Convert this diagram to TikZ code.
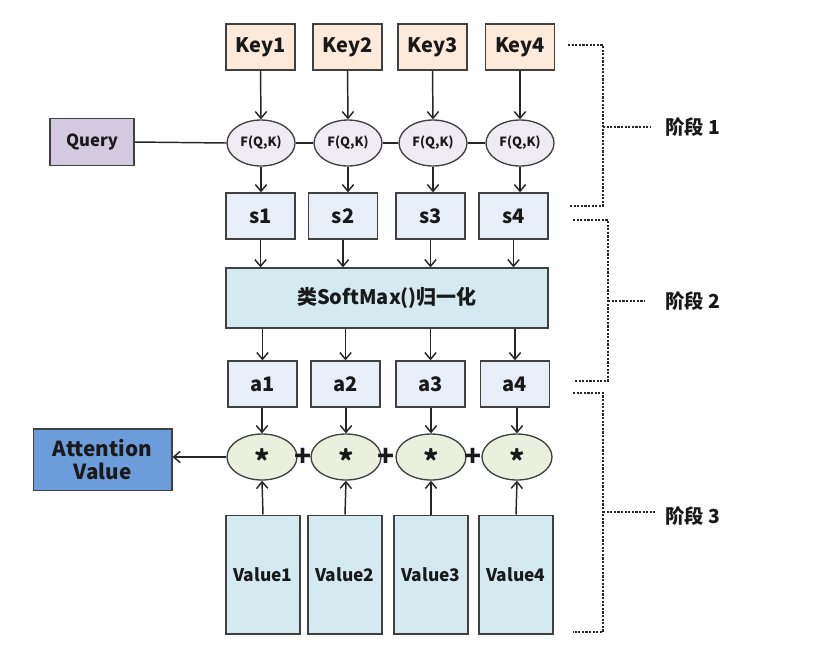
\documentclass[tikz,border=0pt]{standalone}
\usepackage{fontspec}
\setmainfont{Noto Sans CJK SC}
\usetikzlibrary{arrows.meta,shapes.geometric}

\definecolor{edgegray}{HTML}{404040}
\definecolor{keyfill}{HTML}{FDEADA}
\definecolor{queryfill}{HTML}{D3CAE0}
\definecolor{fqkfill}{HTML}{EEECF2}
\definecolor{scorefill}{HTML}{E8EEF7}
\definecolor{normfill}{HTML}{D4EAF0}
\definecolor{mulfill}{HTML}{EBF0DE}
\definecolor{attfill}{HTML}{6C9DDA}

\begin{document}
\begin{tikzpicture}[x=0.75pt, y=-0.75pt, >={Straight Barb[length=5pt,width=8.5pt]},
    every node/.style={text=black!90},
    box/.style={draw=edgegray, line width=1pt, inner sep=0pt, align=center},
    keybox/.style={box, fill=keyfill, minimum width=51.75pt, minimum height=34.5pt,
      font=\bfseries\fontsize{15}{18}\selectfont},
    querybox/.style={box, fill=queryfill, minimum width=63pt, minimum height=35pt,
      font=\bfseries\fontsize{12.5}{15}\selectfont},
    fqk/.style={box, ellipse, fill=fqkfill, minimum width=51pt, minimum height=34.5pt,
      font=\bfseries\fontsize{9.5}{11}\selectfont},
    scorebox/.style={box, fill=scorefill, minimum width=51.75pt, minimum height=34.5pt,
      font=\bfseries\fontsize{15}{18}\selectfont},
    normbox/.style={box, fill=normfill, minimum width=241.5pt, minimum height=45pt,
      font=\bfseries\fontsize{15}{18}\selectfont},
    mul/.style={box, ellipse, fill=mulfill, minimum width=52.5pt, minimum height=34.5pt},
    mulsign/.style={inner sep=0pt, yshift=-2.5pt, font=\bfseries\fontsize{22}{22}\selectfont},
    valuebox/.style={box, fill=normfill, minimum width=55.5pt, minimum height=89pt,
      font=\bfseries\fontsize{13}{15}\selectfont},
    attbox/.style={box, fill=attfill, minimum width=104pt, minimum height=46pt,
      font=\bfseries\fontsize{15.5}{17}\selectfont},
    plus/.style={inner sep=0pt, font=\bfseries\fontsize{21}{21}\selectfont},
    stage/.style={anchor=west, inner sep=0pt, font=\bfseries\fontsize{14.5}{17}\selectfont},
    link/.style={draw=black!85, line width=1.1pt},
    brk/.style={draw=black!85, line width=1.2pt, dash pattern=on 1.6pt off 1.1pt}]

  \useasboundingbox (0,0) rectangle (820,658);

  % stage 1: keys, query and scores
  \foreach \i/\x in {1/260.5, 2/347.5, 3/432.5, 4/520}
    \node[keybox] (k\i) at (\x,47) {Key\i};
  \foreach \i/\x in {1/261, 2/348, 3/433, 4/520}
    \node[fqk] (f\i) at (\x,143) {F(Q,K)};
  \foreach \i/\x in {1/260.5, 2/343, 3/430.5, 4/513.5}
    \node[scorebox] (s\i) at (\x,216) {s\i};
  \node[querybox] (query) at (92,142) {Query};

  \draw[link] (query.east) -- (f1.west);
  \foreach \a/\b in {1/2, 2/3, 3/4}
    \draw[link] (f\a.east) -- (f\b.west);
  \foreach \i in {1,...,4} {
    \draw[link, ->] (k\i.south) -- (f\i.north);
    \draw[link, ->] (f\i.south) -- (f\i |- s\i.north);
  }

  % stage 2: normalisation
  \node[normbox] (norm) at (387,298) {类SoftMax()归一化};
  \foreach \i/\x in {1/262.5, 2/345.5, 3/430.5, 4/515}
    \node[scorebox] (a\i) at (\x,384) {a\i};
  \foreach \i in {1,...,4} {
    \draw[link, ->] (s\i.south) -- (s\i |- norm.north);
    \draw[link, ->] (a\i |- norm.south) -- (a\i.north);
  }

  % stage 3: weighted sum
  \foreach \i/\x in {1/262, 2/346, 3/431, 4/517} {
    \node[mul] (m\i) at (\x,457) {};
    \node[mulsign] (ms\i) at (m\i) {*};
  }
  \foreach \i/\x in {1/303.5, 2/386.5, 3/473.5}
    \node[plus] (p\i) at (\x,457) {+};
  \foreach \i/\x in {1/263, 2/345, 3/431, 4/516}
    \node[valuebox] (v\i) at (\x,574.5) {Value\i};
  \node[attbox] (att) at (102.5,459.5) {Attention\\Value};

  \foreach \i in {1,...,4} {
    \draw[link, ->] (m\i |- a\i.south) -- (m\i.north);
    \draw[link, ->] (v\i.north) -- (m\i.south);
  }
  \draw[link, ->] (m1.west) -- (att.east |- m1.west);

  % stage brackets
  \draw[brk] (568,45) -- (603,45) -- (603,206) -- (570,206);
  \draw[brk] (603,127) -- (650,127);
  \node[stage] (st1) at (665,127) {阶段 1};
  \draw[brk] (573,220) -- (608,220) -- (608,381) -- (575,381);
  \draw[brk] (608,301) -- (645,301);
  \node[stage] (st2) at (665,301) {阶段 2};
  \draw[brk] (573,393) -- (603,393) -- (603,632) -- (573,632);
  \draw[brk] (603,512) -- (655,512);
  \node[stage] (st3) at (665,516) {阶段 3};
\end{tikzpicture}
\end{document}
